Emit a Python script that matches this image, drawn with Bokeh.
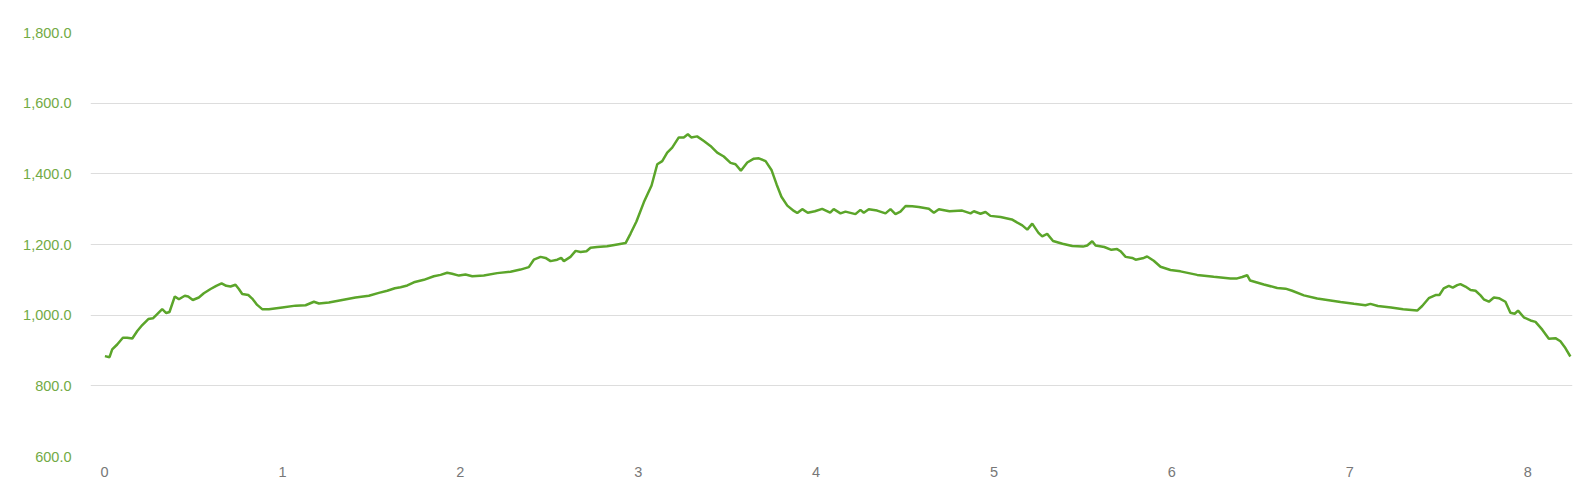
from bokeh.plotting import figure
from bokeh.models import Range1d, FixedTicker, NumeralTickFormatter, ColumnDataSource
from bokeh.embed import file_html
from bokeh.resources import INLINE

# distance (km) and elevation (m)
distance = [
    0.002, 0.028, 0.043, 0.071, 0.103, 0.127, 0.156, 0.184, 0.212, 0.246,
    0.272, 0.296, 0.324, 0.347, 0.365, 0.395, 0.418, 0.451, 0.470, 0.496,
    0.530, 0.558, 0.596, 0.628, 0.658, 0.684, 0.708, 0.736, 0.755, 0.774,
    0.808, 0.830, 0.858, 0.886, 0.924, 0.999, 1.074, 1.130, 1.177, 1.205,
    1.261, 1.336, 1.411, 1.486, 1.542, 1.589, 1.632, 1.664, 1.702, 1.739,
    1.795, 1.851, 1.889, 1.926, 1.954, 1.992, 2.029, 2.067, 2.132, 2.207,
    2.282, 2.338, 2.385, 2.413, 2.451, 2.479, 2.507, 2.545, 2.567, 2.582,
    2.619, 2.648, 2.676, 2.709, 2.732, 2.769, 2.825, 2.882, 2.929, 2.957,
    2.990, 3.032, 3.075, 3.107, 3.135, 3.163, 3.191, 3.228, 3.256, 3.279,
    3.298, 3.331, 3.369, 3.406, 3.444, 3.481, 3.519, 3.547, 3.577, 3.613,
    3.650, 3.678, 3.716, 3.750, 3.778, 3.805, 3.838, 3.875, 3.894, 3.922,
    3.953, 3.993, 4.034, 4.079, 4.099, 4.137, 4.165, 4.221, 4.249, 4.268,
    4.296, 4.343, 4.390, 4.418, 4.446, 4.474, 4.503, 4.540, 4.577, 4.634,
    4.662, 4.690, 4.750, 4.821, 4.868, 4.887, 4.924, 4.952, 4.980, 5.037,
    5.100, 5.159, 5.187, 5.215, 5.250, 5.271, 5.299, 5.332, 5.385, 5.440,
    5.500, 5.524, 5.552, 5.571, 5.620, 5.660, 5.692, 5.711, 5.740, 5.777,
    5.796, 5.842, 5.861, 5.898, 5.936, 5.992, 6.048, 6.142, 6.235, 6.329,
    6.367, 6.395, 6.423, 6.440, 6.517, 6.592, 6.639, 6.676, 6.742, 6.817,
    6.873, 6.948, 7.023, 7.088, 7.116, 7.158, 7.232, 7.300, 7.379, 7.407,
    7.444, 7.482, 7.504, 7.528, 7.557, 7.579, 7.604, 7.622, 7.650, 7.679,
    7.707, 7.735, 7.753, 7.782, 7.810, 7.838, 7.875, 7.903, 7.927, 7.946,
    7.978, 8.016, 8.044, 8.082, 8.119, 8.156, 8.184, 8.212, 8.240,
]
elevation = [
    884, 881, 903, 917, 936, 936, 934, 955, 972, 989,
    991, 1003, 1017, 1006, 1009, 1053, 1045, 1055, 1053, 1043,
    1050, 1062, 1074, 1083, 1090, 1083, 1081, 1086, 1074, 1060,
    1057, 1047, 1029, 1017, 1017, 1022, 1027, 1028, 1038, 1033,
    1036, 1043, 1050, 1055, 1063, 1069, 1076, 1079, 1084, 1093,
    1100, 1110, 1114, 1120, 1117, 1112, 1115, 1110, 1112, 1119,
    1123, 1129, 1136, 1157, 1165, 1162, 1153, 1157, 1162, 1153,
    1165, 1182, 1179, 1181, 1191, 1193, 1195, 1200, 1204, 1231,
    1265, 1320, 1367, 1427, 1436, 1460, 1474, 1503, 1503, 1512,
    1503, 1506, 1493, 1479, 1460, 1449, 1431, 1427, 1409, 1432,
    1443, 1444, 1436, 1410, 1370, 1335, 1310, 1295, 1289, 1300,
    1290, 1294, 1301, 1290, 1300, 1288, 1293, 1286, 1298, 1290,
    1300, 1296, 1288, 1300, 1286, 1293, 1309, 1308, 1306, 1301,
    1290, 1300, 1294, 1296, 1288, 1294, 1287, 1292, 1281, 1278,
    1271, 1254, 1242, 1259, 1233, 1223, 1230, 1210, 1202, 1196,
    1194, 1197, 1209, 1197, 1193, 1185, 1187, 1181, 1165, 1162,
    1157, 1162, 1166, 1154, 1137, 1128, 1124, 1114, 1109, 1104,
    1104, 1108, 1113, 1098, 1087, 1077, 1075, 1069, 1056, 1047,
    1043, 1037, 1032, 1028, 1032, 1026, 1022, 1017, 1013, 1026,
    1048, 1057, 1057, 1076, 1083, 1078, 1085, 1088, 1081, 1071,
    1069, 1056, 1045, 1038, 1050, 1048, 1038, 1007, 1004, 1013,
    994, 985, 981, 959, 933, 935, 926, 907, 883,
]
x_ticks = [0, 1, 2, 3, 4, 5, 6, 7, 8]
y_ticks = [600, 800, 1000, 1200, 1400, 1600, 1800]

source = ColumnDataSource(data=dict(x=distance, y=elevation))

p = figure(
    width=1581, height=482,
    output_backend="svg", toolbar_location=None,
    x_range=Range1d(-0.079, 8.252), y_range=Range1d(600, 1800),
    min_border_left=90, min_border_right=9, min_border_top=32, min_border_bottom=26,
)
p.outline_line_color = None
p.background_fill_color = "white"
p.border_fill_color = "white"

p.line("x", "y", source=source, line_color="#5ba52a", line_width=2.5)

FONT = "Liberation Sans"

p.xaxis.ticker = FixedTicker(ticks=x_ticks)
p.xaxis.axis_line_color = None
p.xaxis.major_tick_line_color = None
p.xaxis.minor_tick_line_color = None
p.xaxis.major_tick_out = 0
p.xaxis.major_label_standoff = 10
p.xaxis.major_label_text_font = FONT
p.xaxis.major_label_text_font_size = "14.5px"
p.xaxis.major_label_text_color = "#777777"

p.yaxis.ticker = FixedTicker(ticks=y_ticks)
p.yaxis.formatter = NumeralTickFormatter(format="0,0.0")
p.yaxis.axis_line_color = None
p.yaxis.major_tick_line_color = None
p.yaxis.minor_tick_line_color = None
p.yaxis.major_tick_out = 0
p.yaxis.major_label_standoff = 19
p.yaxis.major_label_text_font = FONT
p.yaxis.major_label_text_font_size = "14.5px"
p.yaxis.major_label_text_color = "#72aa45"

p.xgrid.grid_line_color = None
p.ygrid.grid_line_color = "#dddddd"
p.ygrid.grid_line_width = 1

open("out.html", "w").write(file_html(p, INLINE))
